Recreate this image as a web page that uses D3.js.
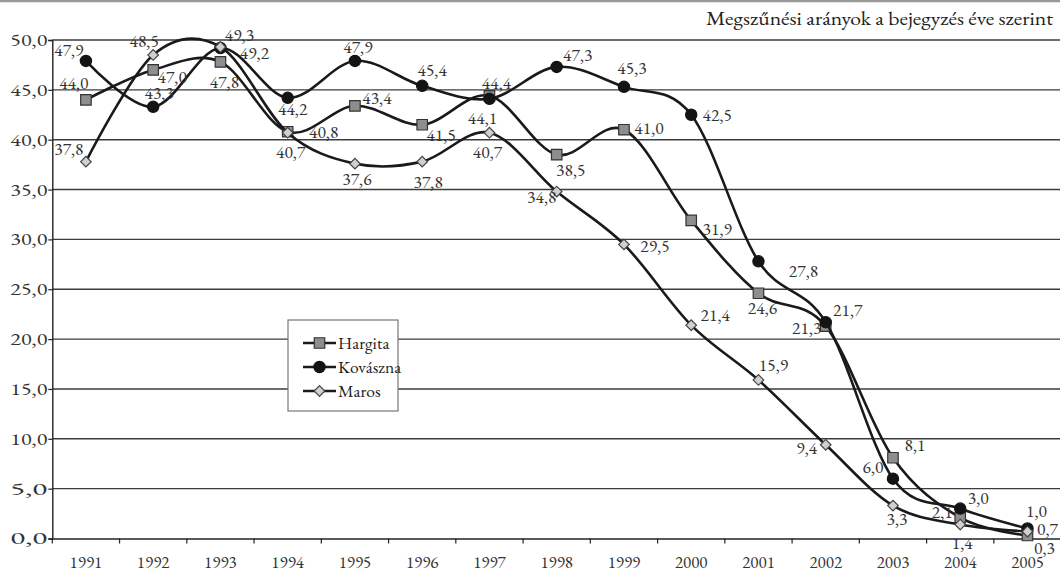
<!DOCTYPE html>
<html><head><meta charset="utf-8">
<script src="https://cdn.jsdelivr.net/npm/d3@7"></script>
<style>
html,body{margin:0;padding:0;background:#fff;}
svg{display:block;}
svg text{font-family:"EB Garamond","Liberation Serif",serif;}
</style></head>
<body>
<svg id="chart" width="1060" height="570"></svg>
<script>
// ---- data ----
const years = ["1991","1992","1993","1994","1995","1996","1997","1998","1999","2000","2001","2002","2003","2004","2005"];
const hargita  = [44.0, 47.0, 47.8, 40.8, 43.4, 41.5, 44.4, 38.5, 41.0, 31.9, 24.6, 21.3, 8.1, 2.1, 0.3];
const kovaszna = [47.9, 43.3, 49.2, 44.2, 47.9, 45.4, 44.1, 47.3, 45.3, 42.5, 27.8, 21.7, 6.0, 3.0, 1.0];
const maros    = [37.8, 48.5, 49.3, 40.7, 37.6, 37.8, 40.7, 34.8, 29.5, 21.4, 15.9, 9.4, 3.3, 1.4, 0.7];
const seriesNames = ["Hargita", "Kovászna", "Maros"];
const yTicks = [0, 5, 10, 15, 20, 25, 30, 35, 40, 45, 50];
const title = "Megszűnési arányok a bejegyzés éve szerint";

// ---- label placement (pixel offsets from each point) ----
const hargitaLabelOffsets  = [[-12,-17],[19,7],[4,20],[36,0],[22,-8],[19,10],[7,-13],[14,15],[25,-2],[26,8],[4,15],[-19,2],[22,-13],[-18,-6],[17,12]];
const kovasznaLabelOffsets = [[-17,-11],[6,-14],[34,5],[5,11],[3,-14],[10,-16],[-7,19],[21,-12],[8,-19],[26,0],[45,10],[22,-12],[-20,-12],[18,-11],[9,-18]];
const marosLabelOffsets    = [[-17,-13],[-9,-14],[19,-12],[3,19],[2,15],[6,20],[-2,19],[-15,5],[31,1],[24,-10],[15,-15],[-19,3],[4,13],[2,18],[20,-3]];

const FONT = '"EB Garamond","Liberation Serif",serif';
const svg = d3.select("#chart");
const mLeft = 52.3, mRight = 1061.1, mTop = 40, mBottom = 538.5;

const x = d3.scaleBand().domain(years).range([mLeft, mRight]).padding(0);
const y = d3.scaleLinear().domain([0, 50]).range([mBottom, mTop]);
const cx = d => x(d) + x.bandwidth() / 2;
const fmt = v => d3.format(".1f")(v).replace(".", ",");

// top rule and title
svg.append("line").attr("x1", 0).attr("x2", 1060).attr("y1", 1).attr("y2", 1)
  .attr("stroke", "#999").attr("stroke-width", 2.5);
svg.append("text").attr("x", 1053).attr("y", 25).attr("text-anchor", "end")
  .style("font-family", FONT).style("font-size", "18px").attr("fill", "#222")
  .attr("textLength", 347).attr("lengthAdjust", "spacingAndGlyphs")
  .text(title);

// gridlines
svg.append("g").selectAll("line").data(yTicks.filter(d => d > 0)).join("line")
  .attr("x1", mLeft).attr("x2", 1060)
  .attr("y1", d => y(d)).attr("y2", d => y(d))
  .attr("stroke", "#3c3c3c").attr("stroke-width", 1.4);

// y axis
const yAxis = svg.append("g").attr("transform", `translate(${mLeft},0)`)
  .call(d3.axisLeft(y).tickValues(yTicks).tickSize(4).tickPadding(1).tickFormat(fmt));
yAxis.select(".domain").attr("stroke", "#222").attr("stroke-width", 1.4);
yAxis.selectAll(".tick line").attr("stroke", "#222").attr("stroke-width", 1.2);
yAxis.selectAll(".tick text").style("font-family", FONT).style("font-size", "17px").attr("fill", "#333")
  .attr("textLength", 37).attr("lengthAdjust", "spacingAndGlyphs");

// x axis
const xAxis = svg.append("g").attr("transform", `translate(0,${mBottom})`)
  .call(d3.axisBottom(x).tickSize(0).tickPadding(17));
xAxis.select(".domain").attr("stroke", "#222").attr("stroke-width", 1.6);
xAxis.selectAll(".tick text").style("font-family", FONT).style("font-size", "17px").attr("fill", "#333");
svg.append("g").selectAll("line").data(years.concat(["end"])).join("line")
  .attr("x1", d => d === "end" ? mRight : x(d)).attr("x2", d => d === "end" ? mRight : x(d))
  .attr("y1", mBottom).attr("y2", mBottom + 5)
  .attr("stroke", "#222").attr("stroke-width", 1.2);

// series
const line = d3.line().x((d, i) => cx(years[i])).y(d => y(d)).curve(d3.curveCardinal.tension(0));
const symSquare = d3.symbol().type(d3.symbolSquare).size(110);
const symCircle = d3.symbol().type(d3.symbolCircle).size(100);
const symDiamond = d3.symbol().type(d3.symbolSquare).size(56);

const series = [
  {name: seriesNames[0], values: hargita, offsets: hargitaLabelOffsets, sym: symSquare, rot: 0, fill: "#8e8e8e", stroke: "#333"},
  {name: seriesNames[1], values: kovaszna, offsets: kovasznaLabelOffsets, sym: symCircle, rot: 0, fill: "#141414", stroke: "#141414"},
  {name: seriesNames[2], values: maros, offsets: marosLabelOffsets, sym: symDiamond, rot: 45, fill: "#d0d0d0", stroke: "#444"}
];

series.forEach(s => {
  const g = svg.append("g");
  g.append("path").attr("d", line(s.values)).attr("fill", "none")
    .attr("stroke", "#1a1a1a").attr("stroke-width", 2.6);
  g.selectAll("path.m").data(s.values).join("path").attr("class", "m")
    .attr("transform", (d, i) => `translate(${cx(years[i])},${y(d)}) rotate(${s.rot})`)
    .attr("d", s.sym).attr("fill", s.fill).attr("stroke", s.stroke).attr("stroke-width", 1.2);
});
series.forEach(s => {
  svg.append("g").selectAll("text").data(s.values).join("text")
    .attr("x", (d, i) => cx(years[i]) + s.offsets[i][0])
    .attr("y", (d, i) => y(d) + s.offsets[i][1])
    .attr("dy", "0.35em").attr("text-anchor", "middle")
    .style("font-family", FONT).style("font-size", "17.5px").attr("fill", "#333")
    .text(d => fmt(d));
});

// legend
const lg = svg.append("g").attr("transform", "translate(288,320)");
lg.append("rect").attr("x", 0).attr("y", 0).attr("width", 110).attr("height", 91)
  .attr("fill", "#fff").attr("stroke", "#777").attr("stroke-width", 1.2);
series.forEach((s, i) => {
  const yy = 23 + i * 24;
  lg.append("line").attr("x1", 15).attr("x2", 48).attr("y1", yy).attr("y2", yy)
    .attr("stroke", "#1a1a1a").attr("stroke-width", 2.6);
  lg.append("path").attr("transform", `translate(31.5,${yy}) rotate(${s.rot})`).attr("d", s.sym)
    .attr("fill", s.fill).attr("stroke", s.stroke).attr("stroke-width", 1.2);
  lg.append("text").attr("x", 50).attr("y", yy).attr("dy", "0.35em")
    .style("font-family", FONT).style("font-size", "17.5px").attr("fill", "#222").text(s.name);
});
</script>
</body></html>
